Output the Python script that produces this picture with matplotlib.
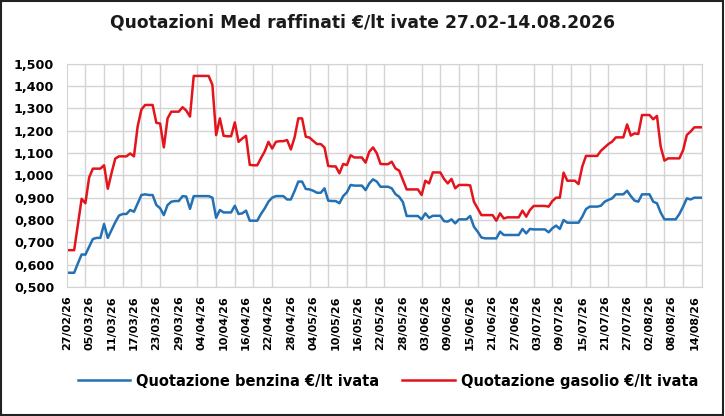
import pandas as pd
import numpy as np
import matplotlib
matplotlib.use('Agg')
import matplotlib.pyplot as plt
import matplotlib.dates as mdates
from matplotlib.patches import Rectangle

# daily quotations, 27/02/26 -> 16/08/26 (weekend = last value)
benzina = [0.564, 0.564, 0.564, 0.606, 0.646, 0.645, 0.680, 0.715, 0.720, 0.720,
           0.782, 0.720, 0.755, 0.790, 0.820, 0.827, 0.827, 0.845, 0.837, 0.875,
           0.912, 0.915, 0.912, 0.912, 0.867, 0.853, 0.822, 0.867, 0.882, 0.885,
           0.885, 0.907, 0.905, 0.850, 0.907, 0.907, 0.907, 0.907, 0.907, 0.900,
           0.810, 0.845, 0.834, 0.834, 0.834, 0.864, 0.827, 0.830, 0.842, 0.797,
           0.797, 0.797, 0.827, 0.852, 0.882, 0.900, 0.907, 0.907, 0.907, 0.892,
           0.892, 0.930, 0.972, 0.972, 0.939, 0.937, 0.931, 0.922, 0.922, 0.942,
           0.887, 0.885, 0.885, 0.875, 0.907, 0.924, 0.957, 0.954, 0.954, 0.954,
           0.934, 0.964, 0.982, 0.972, 0.949, 0.949, 0.949, 0.942, 0.916, 0.904,
           0.880, 0.818, 0.818, 0.818, 0.818, 0.803, 0.830, 0.810, 0.819, 0.819,
           0.819, 0.795, 0.793, 0.803, 0.785, 0.803, 0.803, 0.803, 0.818, 0.770,
           0.748, 0.722, 0.718, 0.718, 0.718, 0.718, 0.748, 0.733, 0.733, 0.733,
           0.733, 0.733, 0.760, 0.740, 0.760, 0.758, 0.758, 0.758, 0.758, 0.745,
           0.763, 0.775, 0.760, 0.800, 0.788, 0.788, 0.788, 0.788, 0.815, 0.849,
           0.860, 0.860, 0.860, 0.864, 0.882, 0.890, 0.897, 0.915, 0.915, 0.915,
           0.931, 0.907, 0.887, 0.882, 0.915, 0.915, 0.915, 0.882, 0.875, 0.833,
           0.803, 0.803, 0.803, 0.803, 0.827, 0.860, 0.897, 0.892, 0.900, 0.900,
           0.900]

gasolio = [0.665, 0.665, 0.665, 0.780, 0.895, 0.875, 0.990, 1.030, 1.030, 1.030,
           1.045, 0.940, 1.010, 1.075, 1.085, 1.085, 1.085, 1.098, 1.085, 1.220,
           1.295, 1.315, 1.315, 1.315, 1.235, 1.232, 1.125, 1.255, 1.285, 1.285,
           1.285, 1.305, 1.290, 1.263, 1.445, 1.445, 1.445, 1.445, 1.445, 1.405,
           1.180, 1.255, 1.177, 1.175, 1.175, 1.237, 1.150, 1.165, 1.177, 1.047,
           1.045, 1.045, 1.077, 1.107, 1.150, 1.120, 1.150, 1.153, 1.153, 1.158,
           1.116, 1.170, 1.255, 1.255, 1.173, 1.169, 1.154, 1.140, 1.140, 1.125,
           1.042, 1.040, 1.040, 1.009, 1.051, 1.046, 1.090, 1.080, 1.080, 1.080,
           1.057, 1.106, 1.125, 1.099, 1.051, 1.050, 1.050, 1.061, 1.031, 1.021,
           0.979, 0.937, 0.937, 0.937, 0.937, 0.912, 0.976, 0.964, 1.013, 1.013,
           1.013, 0.984, 0.964, 0.984, 0.942, 0.957, 0.957, 0.957, 0.955, 0.882,
           0.852, 0.822, 0.822, 0.822, 0.822, 0.797, 0.830, 0.807, 0.812, 0.812,
           0.812, 0.812, 0.842, 0.815, 0.845, 0.863, 0.863, 0.863, 0.863, 0.860,
           0.885, 0.900, 0.900, 1.012, 0.976, 0.976, 0.976, 0.961, 1.039, 1.087,
           1.087, 1.087, 1.087, 1.110, 1.125, 1.140, 1.151, 1.170, 1.170, 1.170,
           1.228, 1.178, 1.188, 1.185, 1.270, 1.270, 1.270, 1.251, 1.266, 1.128,
           1.066, 1.076, 1.076, 1.076, 1.076, 1.113, 1.181, 1.196, 1.215, 1.215,
           1.215]

dates = pd.date_range('2026-02-27', periods=len(benzina), freq='D')
label_dates = pd.date_range('2026-02-27', '2026-08-14', freq='6D')
grid_dates = pd.date_range('2026-02-27', '2026-08-16', freq='5D')

title = 'Quotazioni Med raffinati €/lt ivate 27.02-14.08.2026'
lbl_benz = 'Quotazione benzina €/lt ivata'
lbl_gas = 'Quotazione gasolio €/lt ivata'

plt.rcParams['font.family'] = 'DejaVu Sans'

fig = plt.figure(figsize=(7.25, 4.16), dpi=100)
ax = fig.add_axes([0.092, 0.31, 0.876, 0.537])

ax.plot(dates, benzina, color='#2371b4', lw=1.8, label=lbl_benz)
ax.plot(dates, gasolio, color='#e3141c', lw=1.8, label=lbl_gas)

ax.set_ylim(0.5, 1.5)
ax.set_yticks(np.arange(0.5, 1.501, 0.1))
ax.set_yticklabels([f'{v:.3f}'.replace('.', ',') for v in np.arange(0.5, 1.501, 0.1)])
ax.set_xlim(dates[0], pd.Timestamp('2026-08-16'))
ax.set_xticks(label_dates)
ax.xaxis.set_major_formatter(mdates.DateFormatter('%d/%m/%y'))
ax.set_xticks(grid_dates, minor=True)

ax.grid(True, axis='y', color='#d4d4d4', lw=1)
ax.grid(True, axis='x', which='minor', color='#d4d4d4', lw=1)
ax.grid(False, axis='x', which='major')
ax.set_axisbelow(True)
for s in ax.spines.values():
    s.set_color('#d4d4d4')
ax.tick_params(axis='both', which='both', length=0)
ax.tick_params(axis='y', labelsize=9.2, pad=9)
ax.tick_params(axis='x', labelsize=8, pad=6)
plt.setp(ax.get_xticklabels(), rotation=90, fontweight='bold')
plt.setp(ax.get_yticklabels(), fontweight='bold')

fig.text(0.5, 0.947, title, ha='center', va='center', fontsize=12.3,
         fontweight='bold', color='#1a1a1a')

fig.legend(loc='center', bbox_to_anchor=(0.535, 0.084), ncol=2, frameon=False,
           prop={'weight': 'bold', 'size': 10.5}, handlelength=3.6,
           columnspacing=1.6, handletextpad=0.4)

fig.patches.append(Rectangle((0.002, 0.003), 0.995, 0.994, transform=fig.transFigure,
                             fill=False, edgecolor='#222222', lw=1.5))

fig.savefig('out.png', dpi=100)
